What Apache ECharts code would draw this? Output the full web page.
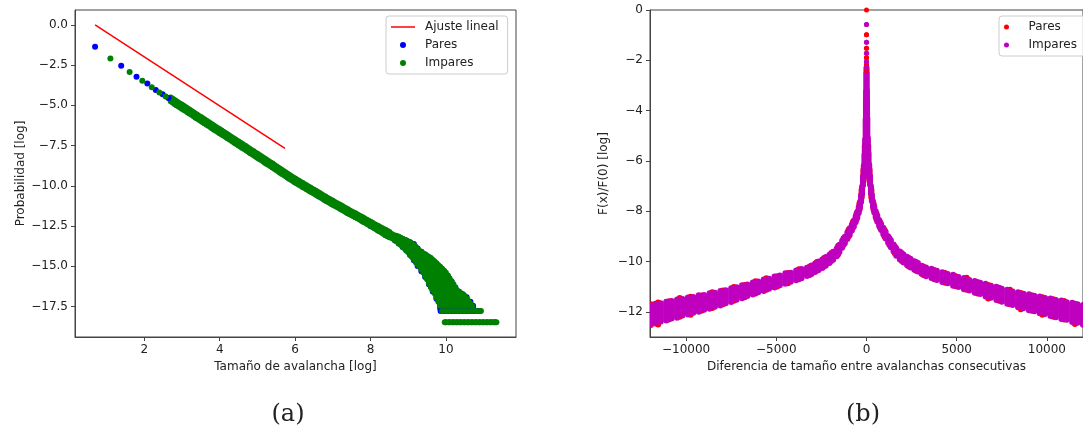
<!DOCTYPE html>
<html>
<head>
<meta charset="utf-8">
<script src="https://cdn.jsdelivr.net/npm/echarts@6/dist/echarts.min.js"></script>
<style>
  html, body { margin: 0; padding: 0; background: #ffffff; }
  #chart { width: 1083px; height: 437px; }
</style>
</head>
<body>
<div id="chart"></div>
<script>
// ---------- tick labels ----------
const sizeTicks = [2, 4, 6, 8, 10];
const probTicks = [0, -2.5, -5, -7.5, -10, -12.5, -15, -17.5];
const diffTicks = [-10000, -5000, 0, 5000, 10000];
const ratioTicks = [0, -2, -4, -6, -8, -10, -12];

// ---------- (a) avalanche size distribution, log-log ----------
// linear fit
const fitLine = [[0.693, 0], [5.73, -7.68]];

// even sizes, isolated points: [log size, log probability]
const paresSize = [
  [0.693, -1.37], [1.386, -2.55], [1.792, -3.22], [2.079, -3.65], [2.303, -4.05], [2.485, -4.32], [2.639, -4.55],
  [9.86, -17.77], [9.96, -17.77], [10.06, -17.77], [10.16, -17.77], [10.26, -17.77], [10.36, -17.77], [10.46, -17.77],
  [10.56, -17.77], [10.66, -17.77], [10.76, -17.77], [10.86, -17.77],
  [10.0, -18.47], [10.1, -18.47], [10.2, -18.47], [10.3, -18.47], [10.4, -18.47], [10.5, -18.47], [10.6, -18.47],
  [10.7, -18.47], [10.8, -18.47], [10.9, -18.47], [11.0, -18.47], [11.1, -18.47], [11.2, -18.47], [11.3, -18.47]
];
// even sizes, dense part: [log size, highest, lowest] per column of points
const paresSizeBand = [
  [2.8, -4.70, -4.90], [3.0, -5.00, -5.20], [3.2, -5.30, -5.50], [3.4, -5.61, -5.81], [3.6, -5.91, -6.11],
  [3.8, -6.22, -6.42], [4.0, -6.52, -6.72], [4.2, -6.82, -7.02], [4.4, -7.13, -7.33], [4.6, -7.43, -7.63],
  [4.8, -7.74, -7.94], [5.0, -8.04, -8.24], [5.2, -8.35, -8.55], [5.4, -8.65, -8.85], [5.6, -8.97, -9.17],
  [5.8, -9.28, -9.48], [6.0, -9.58, -9.78], [6.2, -9.86, -10.06], [6.4, -10.14, -10.34], [6.6, -10.41, -10.61],
  [6.8, -10.70, -10.90], [7.0, -10.96, -11.16], [7.2, -11.23, -11.43], [7.4, -11.50, -11.70], [7.6, -11.74, -11.94],
  [7.8, -11.99, -12.22], [8.0, -12.25, -12.50], [8.2, -12.51, -12.78], [8.4, -12.76, -13.07],
  [8.65, -13.12, -13.40], [8.75, -13.20, -13.58], [8.85, -13.30, -13.80], [8.95, -13.40, -14.02], [9.05, -13.50, -14.30],
  [9.15, -13.62, -14.62], [9.25, -13.90, -14.98], [9.35, -14.10, -15.30], [9.45, -14.26, -15.66], [9.55, -14.44, -16.12],
  [9.65, -14.62, -16.56], [9.75, -14.84, -17.02], [9.85, -15.06, -17.62], [9.95, -15.30, -17.77], [10.05, -15.60, -17.77],
  [10.15, -15.95, -17.77], [10.25, -16.32, -17.77], [10.35, -16.58, -17.77], [10.45, -16.74, -17.77], [10.55, -16.92, -17.77],
  [10.65, -17.20, -17.77], [10.72, -17.45, -17.77]
];
// odd sizes, isolated points
const imparesSize = [
  [1.099, -2.10], [1.609, -2.93], [1.946, -3.47], [2.197, -3.88], [2.398, -4.21], [2.565, -4.46],
  [9.9, -17.77], [10.0, -17.77], [10.1, -17.77], [10.2, -17.77], [10.3, -17.77], [10.4, -17.77], [10.5, -17.77],
  [10.6, -17.77], [10.7, -17.77], [10.8, -17.77], [10.9, -17.77], [10.93, -17.77],
  [9.97, -18.47], [10.07, -18.47], [10.17, -18.47], [10.27, -18.47], [10.37, -18.47], [10.47, -18.47], [10.57, -18.47],
  [10.67, -18.47], [10.77, -18.47], [10.87, -18.47], [10.97, -18.47], [11.07, -18.47], [11.17, -18.47], [11.27, -18.47],
  [11.34, -18.47]
];
// odd sizes, dense part
const imparesSizeBand = [
  [2.70, -4.51, -4.75], [2.75, -4.59, -4.83], [2.80, -4.67, -4.91], [2.85, -4.75, -4.99], [2.90, -4.82, -5.06],
  [2.95, -4.90, -5.14], [3.00, -4.97, -5.21], [3.05, -5.05, -5.29], [3.10, -5.12, -5.36], [3.15, -5.20, -5.44],
  [3.20, -5.27, -5.51], [3.25, -5.35, -5.59], [3.30, -5.43, -5.67], [3.35, -5.51, -5.75], [3.40, -5.58, -5.82],
  [3.45, -5.66, -5.90], [3.50, -5.73, -5.97], [3.55, -5.81, -6.05], [3.60, -5.88, -6.12], [3.65, -5.96, -6.20],
  [3.70, -6.03, -6.27], [3.75, -6.11, -6.35], [3.80, -6.19, -6.43], [3.85, -6.27, -6.51], [3.90, -6.34, -6.58],
  [3.95, -6.42, -6.66], [4.00, -6.49, -6.73], [4.05, -6.57, -6.81], [4.10, -6.64, -6.88], [4.15, -6.72, -6.96],
  [4.20, -6.79, -7.03], [4.25, -6.87, -7.11], [4.30, -6.95, -7.19], [4.35, -7.03, -7.27], [4.40, -7.10, -7.34],
  [4.45, -7.18, -7.42], [4.50, -7.25, -7.49], [4.55, -7.33, -7.57], [4.60, -7.40, -7.64], [4.65, -7.48, -7.72],
  [4.70, -7.55, -7.79], [4.75, -7.63, -7.87], [4.80, -7.71, -7.95], [4.85, -7.79, -8.03], [4.90, -7.86, -8.10],
  [4.95, -7.94, -8.18], [5.00, -8.01, -8.25], [5.05, -8.09, -8.33], [5.10, -8.16, -8.40], [5.15, -8.24, -8.48],
  [5.20, -8.32, -8.56], [5.25, -8.40, -8.64], [5.30, -8.47, -8.71], [5.35, -8.55, -8.79], [5.40, -8.62, -8.86],
  [5.45, -8.70, -8.94], [5.50, -8.78, -9.02], [5.55, -8.86, -9.10], [5.60, -8.94, -9.18], [5.65, -9.02, -9.26],
  [5.70, -9.09, -9.33], [5.75, -9.17, -9.41], [5.80, -9.25, -9.49], [5.85, -9.33, -9.57], [5.90, -9.40, -9.64],
  [5.95, -9.48, -9.72], [6.00, -9.55, -9.79], [6.05, -9.62, -9.86], [6.10, -9.69, -9.93], [6.15, -9.76, -10.00],
  [6.20, -9.83, -10.07], [6.25, -9.90, -10.14], [6.30, -9.97, -10.21], [6.35, -10.04, -10.28], [6.40, -10.11, -10.35],
  [6.45, -10.18, -10.42], [6.50, -10.24, -10.48], [6.55, -10.31, -10.55], [6.60, -10.38, -10.62], [6.65, -10.45, -10.69],
  [6.70, -10.52, -10.76], [6.75, -10.60, -10.84], [6.80, -10.67, -10.91], [6.85, -10.74, -10.98], [6.90, -10.80, -11.04],
  [6.95, -10.87, -11.11], [7.00, -10.93, -11.17], [7.05, -11.00, -11.24], [7.10, -11.06, -11.30], [7.15, -11.13, -11.37],
  [7.20, -11.19, -11.43], [7.25, -11.26, -11.50], [7.30, -11.33, -11.57], [7.35, -11.40, -11.64], [7.40, -11.46, -11.70],
  [7.45, -11.53, -11.77], [7.50, -11.59, -11.83], [7.55, -11.65, -11.89], [7.60, -11.71, -11.95], [7.65, -11.78, -12.02],
  [7.70, -11.84, -12.08], [7.75, -11.91, -12.15], [7.80, -11.97, -12.21], [7.85, -12.04, -12.28], [7.90, -12.11, -12.35],
  [7.95, -12.17, -12.42], [8.00, -12.23, -12.49], [8.05, -12.30, -12.56], [8.10, -12.37, -12.63], [8.15, -12.43, -12.70],
  [8.20, -12.49, -12.77], [8.25, -12.56, -12.84], [8.30, -12.62, -12.92], [8.35, -12.68, -12.99], [8.40, -12.74, -13.06],
  [8.45, -12.80, -13.13], [8.50, -12.87, -13.19], [8.55, -12.97, -13.23],
  [8.60, -13.05, -13.28], [8.65, -13.08, -13.37], [8.70, -13.12, -13.46], [8.75, -13.17, -13.56], [8.80, -13.23, -13.66],
  [8.85, -13.29, -13.77], [8.90, -13.35, -13.88], [8.95, -13.40, -14.00], [9.00, -13.46, -14.12], [9.05, -13.52, -14.27],
  [9.10, -13.58, -14.42], [9.15, -13.68, -14.58], [9.20, -13.78, -14.74], [9.25, -13.92, -14.88], [9.30, -14.05, -15.02],
  [9.35, -14.12, -15.20], [9.40, -14.20, -15.38], [9.45, -14.27, -15.59], [9.50, -14.35, -15.80], [9.55, -14.42, -16.05],
  [9.60, -14.49, -16.30], [9.65, -14.60, -16.49], [9.70, -14.70, -16.68], [9.75, -14.81, -16.94], [9.80, -14.93, -17.20],
  [9.85, -15.04, -17.48], [9.90, -15.15, -17.77], [9.95, -15.27, -17.77], [10.00, -15.40, -17.77], [10.05, -15.57, -17.77],
  [10.10, -15.75, -17.77], [10.15, -15.93, -17.77], [10.20, -16.12, -17.77], [10.25, -16.31, -17.77], [10.30, -16.50, -17.77],
  [10.35, -16.59, -17.77], [10.40, -16.68, -17.77], [10.45, -16.76, -17.77], [10.50, -16.85, -17.77], [10.55, -17.00, -17.77],
  [10.60, -17.15, -17.77], [10.65, -17.32, -17.77], [10.70, -17.50, -17.77]
];

// ---------- (b) size difference between consecutive avalanches ----------
// isolated points near zero: [difference, log F(x)/F(0)]
const paresDiff = [
  [0, 0], [2, -0.98], [-2, -0.98], [4, -1.52], [-4, -1.52], [6, -1.90], [-6, -1.90], [8, -2.19], [-8, -2.19],
  [10, -2.40], [-10, -2.40]
];
const imparesDiff = [
  [1, -0.58], [-1, -0.58], [3, -1.28], [-3, -1.28], [5, -1.72], [-5, -1.72], [7, -2.06], [-7, -2.06], [9, -2.30], [-9, -2.30]
];
// dense band: [difference, highest, lowest] per column of points
const paresDiffBand = [
  [-11950, -11.70, -12.52], [-11550, -11.63, -12.50], [-10950, -11.58, -12.30], [-10350, -11.45, -12.19],
  [-9750, -11.40, -12.12], [-9150, -11.35, -11.96], [-8550, -11.22, -11.85], [-7950, -11.15, -11.70],
  [-7350, -11.01, -11.56], [-6750, -10.93, -11.42], [-6150, -10.78, -11.27], [-5550, -10.66, -11.12],
  [-4950, -10.58, -10.99], [-4350, -10.46, -10.86], [-3750, -10.31, -10.70], [-3150, -10.20, -10.54],
  [-2750, -10.02, -10.37], [-2350, -9.86, -10.20], [-1950, -9.66, -9.98], [-1575, -9.38, -9.72],
  [-1275, -9.07, -9.34], [-995, -8.74, -9.00], [-755, -8.43, -8.67], [-555, -8.09, -8.33], [-395, -7.70, -7.95],
  [-270, -7.15, -7.45], [-170, -6.35, -6.80], [-95, -5.40, -6.25], [-30, -3.60, -5.40], [0, -2.50, -4.60],
  [30, -3.60, -5.40], [95, -5.40, -6.25], [170, -6.35, -6.80], [270, -7.15, -7.45], [395, -7.70, -7.95],
  [555, -8.09, -8.33], [755, -8.43, -8.67], [995, -8.74, -9.00], [1275, -9.07, -9.34], [1575, -9.40, -9.68],
  [1950, -9.66, -9.98], [2350, -9.86, -10.20], [2750, -10.02, -10.37], [3150, -10.20, -10.54],
  [3750, -10.34, -10.70], [4350, -10.46, -10.84], [4950, -10.58, -10.98], [5550, -10.64, -11.12],
  [6150, -10.81, -11.27], [6750, -10.93, -11.47], [7350, -11.04, -11.56], [7950, -11.12, -11.70],
  [8550, -11.25, -11.90], [9150, -11.34, -11.96], [9750, -11.42, -12.12], [10350, -11.50, -12.19],
  [10950, -11.57, -12.30], [11550, -11.68, -12.48]
];
const imparesDiffBand = [
  [-12000, -11.75, -12.49], [-11700, -11.68, -12.46], [-11400, -11.66, -12.38], [-11100, -11.60, -12.34],
  [-10800, -11.57, -12.26], [-10500, -11.51, -12.23], [-10200, -11.49, -12.15], [-9900, -11.43, -12.11],
  [-9600, -11.41, -12.04], [-9300, -11.34, -12.00], [-9000, -11.33, -11.92], [-8700, -11.26, -11.88],
  [-8400, -11.24, -11.80], [-8100, -11.17, -11.75], [-7800, -11.14, -11.66], [-7500, -11.06, -11.61],
  [-7200, -11.02, -11.52], [-6900, -10.94, -11.46], [-6600, -10.91, -11.37], [-6300, -10.83, -11.31],
  [-6000, -10.79, -11.22], [-5700, -10.71, -11.17], [-5400, -10.68, -11.08], [-5100, -10.59, -11.03],
  [-4800, -10.56, -10.94], [-4500, -10.47, -10.88], [-4200, -10.45, -10.80], [-3900, -10.36, -10.74],
  [-3600, -10.30, -10.66], [-3300, -10.25, -10.57], [-3050, -10.16, -10.50], [-2850, -10.08, -10.42],
  [-2650, -10.00, -10.34], [-2450, -9.92, -10.26], [-2250, -9.82, -10.16], [-2050, -9.73, -10.06],
  [-1850, -9.61, -9.93], [-1650, -9.48, -9.79], [-1500, -9.33, -9.62], [-1350, -9.17, -9.45],
  [-1200, -9.01, -9.27], [-1060, -8.84, -9.10], [-930, -8.68, -8.94], [-810, -8.53, -8.77],
  [-700, -8.37, -8.61], [-600, -8.20, -8.44], [-510, -8.02, -8.26], [-430, -7.83, -8.07],
  [-360, -7.62, -7.86], [-300, -7.35, -7.63], [-245, -7.02, -7.33], [-195, -6.62, -6.98],
  [-150, -6.18, -6.68], [-110, -5.75, -6.42], [-75, -5.15, -6.15], [-45, -4.35, -5.85], [-20, -3.25, -5.25],
  [0, -2.30, -4.40],
  [20, -3.20, -5.20], [45, -4.30, -5.80], [75, -5.10, -6.15], [110, -5.70, -6.40], [150, -6.15, -6.65],
  [195, -6.60, -6.95], [245, -7.00, -7.30], [300, -7.36, -7.60], [360, -7.60, -7.84], [430, -7.81, -8.05],
  [510, -8.00, -8.24], [600, -8.18, -8.42], [700, -8.35, -8.59], [810, -8.51, -8.75], [930, -8.66, -8.92],
  [1060, -8.82, -9.08], [1200, -8.99, -9.25], [1350, -9.15, -9.43], [1500, -9.32, -9.60], [1650, -9.47, -9.77],
  [1850, -9.60, -9.92], [2050, -9.72, -10.04], [2250, -9.81, -10.15], [2450, -9.90, -10.24], [2650, -9.99, -10.33],
  [2850, -10.06, -10.40], [3050, -10.17, -10.49], [3300, -10.24, -10.58], [3600, -10.29, -10.65],
  [3900, -10.37, -10.73], [4200, -10.43, -10.81], [4500, -10.50, -10.86], [4800, -10.53, -10.96],
  [5100, -10.61, -11.01], [5400, -10.65, -11.10], [5700, -10.73, -11.15], [6000, -10.77, -11.24],
  [6300, -10.84, -11.29], [6600, -10.88, -11.39], [6900, -10.96, -11.44], [7200, -11.00, -11.53],
  [7500, -11.08, -11.60], [7800, -11.12, -11.68], [8100, -11.19, -11.73], [8400, -11.22, -11.82],
  [8700, -11.28, -11.86], [9000, -11.30, -11.94], [9300, -11.36, -11.98], [9600, -11.39, -12.06],
  [9900, -11.45, -12.09], [10200, -11.47, -12.17], [10500, -11.53, -12.21], [10800, -11.55, -12.28],
  [11100, -11.62, -12.31], [11400, -11.64, -12.40], [11700, -11.70, -12.43], [12000, -11.73, -12.51]
];

// ---------- styling ----------
const FONT = "'DejaVu Sans', sans-serif";
const INK = '#222222';
const SPINE = '#444444';
const BLUE = '#0000ff', GREEN = '#008000', RED = '#ff0000', MAGENTA = '#bf00bf';

function signed(digits) {
  return v => (v < 0 ? '\u2212' : '') + Math.abs(v).toFixed(digits);
}

function axis(gridIndex, min, max, ticks, digits, name, nameGap) {
  return {
    type: 'value', gridIndex, min, max,
    axisLine: { show: true, onZero: false, lineStyle: { color: SPINE, width: 1 } },
    axisTick: { show: true, inside: false, length: 4, lineStyle: { color: SPINE, width: 1 }, customValues: ticks },
    axisLabel: { customValues: ticks, formatter: signed(digits), fontFamily: FONT, fontSize: 12, color: INK, margin: 7 },
    splitLine: { show: false },
    name, nameLocation: 'middle', nameGap,
    nameTextStyle: { fontFamily: FONT, fontSize: 12, color: INK }
  };
}

// a column of overlapping round markers between two values at one abscissa
function columnSeries(name, data, color, size, axisIdx) {
  const r = size / 2;
  return {
    type: 'custom', name, data, xAxisIndex: axisIdx, yAxisIndex: axisIdx,
    clip: true, silent: true, animation: false,
    encode: { x: 0, y: [1, 2] },
    itemStyle: { color },
    renderItem: (params, api) => {
      const a = api.coord([api.value(0), api.value(1)]);
      const b = api.coord([api.value(0), api.value(2)]);
      return {
        type: 'rect',
        shape: { x: a[0] - r, y: a[1] - r, width: size, height: (b[1] - a[1]) + size, r: r },
        style: { fill: color }
      };
    }
  };
}

function dotSeries(name, data, color, size, axisIdx) {
  return {
    type: 'scatter', name, data, xAxisIndex: axisIdx, yAxisIndex: axisIdx,
    symbol: 'circle', symbolSize: size, silent: true, animation: false,
    itemStyle: { color, opacity: 1 }
  };
}

const legendBase = {
  orient: 'vertical', selectedMode: false,
  itemGap: 4, itemWidth: 24,
  backgroundColor: 'rgba(255,255,255,0.8)', borderColor: '#cccccc', borderWidth: 1, borderRadius: 3,
  textStyle: { fontFamily: FONT, fontSize: 12, color: INK, lineHeight: 14, padding: [0, 0, 0, 5] }
};

const chart = echarts.init(document.getElementById('chart'), null, { renderer: 'canvas' });
chart.setOption({
  backgroundColor: '#ffffff',
  animation: false,
  grid: [
    { left: 75, top: 10, width: 441, height: 327, show: true, borderColor: SPINE, borderWidth: 1 },
    { left: 650, top: 10, width: 440, height: 327, show: true, borderColor: SPINE, borderWidth: 1 }
  ],
  xAxis: [
    axis(0, 0.16, 11.86, sizeTicks, 0, 'Tamaño de avalancha [log]', 24),
    axis(1, -12000, 12000, diffTicks, 0, 'Diferencia de tamaño entre avalanchas consecutivas', 24)
  ],
  yAxis: [
    axis(0, -19.39, 0.92, probTicks, 1, 'Probabilidad [log]', 48),
    axis(1, -13, 0, ratioTicks, 0, 'F(x)/F(0) [log]', 40)
  ],
  legend: [
    Object.assign({}, legendBase, {
      left: 386, top: 16, padding: [4, 9, 4, 5], itemHeight: 6,
      data: [
        { name: 'Ajuste lineal', icon: 'path://M0,0H24V1.5H0Z', itemStyle: { color: RED } },
        { name: 'Pares', icon: 'circle', itemStyle: { color: BLUE } },
        { name: 'Impares', icon: 'circle', itemStyle: { color: GREEN } }
      ]
    }),
    Object.assign({}, legendBase, {
      right: -6, top: 16, padding: [4, 12, 4, 5], itemHeight: 5,
      data: [
        { name: 'Pares', icon: 'circle', itemStyle: { color: RED } },
        { name: 'Impares', icon: 'circle', itemStyle: { color: MAGENTA } }
      ]
    })
  ],
  graphic: [
    { type: 'text', x: 288, y: 415, style: { text: '(a)', font: "24px 'DejaVu Serif', serif", fill: INK, align: 'center', verticalAlign: 'middle' } },
    { type: 'text', x: 863, y: 415, style: { text: '(b)', font: "24px 'DejaVu Serif', serif", fill: INK, align: 'center', verticalAlign: 'middle' } }
  ],
  series: [
    dotSeries('Pares', paresSize, BLUE, 6, 0),
    columnSeries('Pares', paresSizeBand, BLUE, 6, 0),
    dotSeries('Impares', imparesSize, GREEN, 6, 0),
    columnSeries('Impares', imparesSizeBand, GREEN, 6, 0),
    {
      type: 'line', name: 'Ajuste lineal', data: fitLine, xAxisIndex: 0, yAxisIndex: 0,
      symbol: 'none', silent: true, animation: false,
      lineStyle: { color: RED, width: 1.5 }, itemStyle: { color: RED }
    },
    columnSeries('Pares', paresDiffBand, RED, 6, 1),
    dotSeries('Pares', paresDiff, RED, 5, 1),
    columnSeries('Impares', imparesDiffBand, MAGENTA, 6, 1),
    dotSeries('Impares', imparesDiff, MAGENTA, 5, 1)
  ]
});
</script>
</body>
</html>
